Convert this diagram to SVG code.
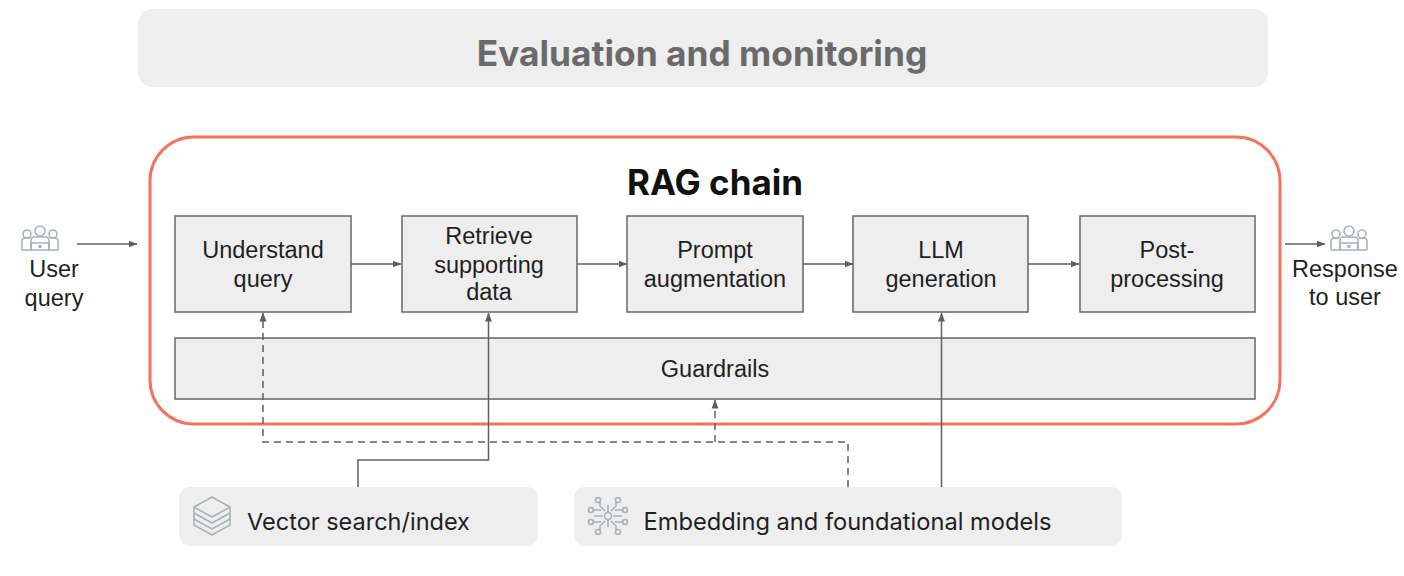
<svg xmlns="http://www.w3.org/2000/svg" width="1404" height="576" viewBox="0 0 1404 576">
<style>
text{font-family:"Liberation Sans",Arial,sans-serif;text-anchor:middle;fill:#1f1f1f;font-size:23.500px}
.box{fill:#eeeeee;stroke:#666666;stroke-width:1.5}
.pill{fill:#eeeeee}
.c{fill:none;stroke:#5f5f5f;stroke-width:1.5}
.d{stroke-dasharray:7 5}
.i{fill:none;stroke:#a9b2b6;stroke-width:1.6;stroke-linejoin:round}
.h{font-family:"Inter","Noto Sans",sans-serif}
</style>
<defs>
<marker id="a" markerWidth="9" markerHeight="8" refX="8.500" refY="4" orient="auto" markerUnits="userSpaceOnUse"><path d="M0 0.500L9 4L0 7.500Z" fill="#5f5f5f"/></marker>
<g id="people" class="i">
<circle cx="0" cy="-9" r="5"/><path d="M-9 10V0Q-9-3-5-3H5Q9-3 9 0V10"/>
<circle cx="-13" cy="-6" r="4"/><path d="M-18 10V1Q-18-2-14-2H-10"/><path d="M-18 10H-9"/>
<circle cx="13" cy="-6" r="4"/><path d="M18 10V1Q18-2 14-2H10"/><path d="M18 10H9"/>
<rect x="-9" y="3" width="18" height="7"/><rect x="-1.500" y="5" width="3" height="3" fill="#a9b2b6" stroke="none"/>
</g>
</defs>
<g id="evaluation"><rect class="pill" x="138" y="9" width="1130" height="78" rx="14"/><text class="h" x="702" y="66" style="font-size:35.300px;font-weight:700;fill:#6a6a6a">Evaluation and monitoring</text></g>
<g id="rag-chain"><rect x="150" y="137" width="1130" height="287" rx="44" fill="#fff" stroke="#f4735c" stroke-width="3"/><text class="h" x="715" y="195" style="font-size:35px;font-weight:700;fill:#111">RAG chain</text></g>
<g id="understand-query"><rect class="box" x="175" y="216" width="176" height="96"/><text x="263" y="258">Understand</text><text x="263" y="287">query</text></g>
<g id="retrieve"><rect class="box" x="402" y="216" width="175" height="96"/><text x="489" y="244">Retrieve</text><text x="489" y="273">supporting</text><text x="489" y="300">data</text></g>
<g id="prompt"><rect class="box" x="627" y="216" width="176" height="96"/><text x="715" y="258">Prompt</text><text x="715" y="287">augmentation</text></g>
<g id="llm"><rect class="box" x="853" y="216" width="175" height="96"/><text x="941" y="258">LLM</text><text x="941" y="287">generation</text></g>
<g id="post"><rect class="box" x="1080" y="216" width="175" height="96"/><text x="1167" y="258">Post-</text><text x="1167" y="287">processing</text></g>
<g id="guardrails"><rect class="box" x="175" y="338" width="1080" height="61"/><text x="715" y="377">Guardrails</text></g>
<g id="user-query"><use href="#people" x="40" y="240"/><text x="54" y="277">User</text><text x="54" y="306">query</text></g>
<g id="response"><use href="#people" x="1349" y="240"/><text x="1345" y="277">Response</text><text x="1345" y="305">to user</text></g>
<g id="vector"><rect class="pill" x="179" y="487" width="359" height="59" rx="11"/>
<g class="i"><path d="M212 497L230 507L212 517L194 507Z"/><path d="M194 507V513L212 523L230 513V507"/><path d="M194 513L194 525L212 535L230 525V513"/><path d="M194 519L212 529L230 519"/></g>
<text class="h" x="358.500" y="530" style="font-size:23.500px">Vector search/index</text></g>
<g id="embedding"><rect class="pill" x="574" y="487" width="548" height="59" rx="11"/>
<g class="i"><circle cx="608" cy="516" r="3.500"/><path d="M603 516H594M613 516H622M605 511L600 506V501M611 511L616 506V501M605 521L600 526V531M611 521L616 526V531M608 512V505M608 520V527M601 510H592M615 510H624M601 522H592M615 522H624"/><circle cx="598" cy="500" r="2.500"/><circle cx="618" cy="500" r="2.500"/><circle cx="598" cy="532" r="2.500"/><circle cx="618" cy="532" r="2.500"/><circle cx="591" cy="510" r="2.500"/><circle cx="625" cy="510" r="2.500"/><circle cx="591" cy="522" r="2.500"/><circle cx="625" cy="522" r="2.500"/></g>
<text class="h" x="847.500" y="530" style="font-size:23.650px">Embedding and foundational models</text></g>
<g id="connectors">
<path class="c" d="M77 244H137" marker-end="url(#a)"/>
<path class="c" d="M351 264H401" marker-end="url(#a)"/>
<path class="c" d="M577 264H627" marker-end="url(#a)"/>
<path class="c" d="M803 264H853" marker-end="url(#a)"/>
<path class="c" d="M1028 264H1079" marker-end="url(#a)"/>
<path class="c" d="M1285 244H1325" marker-end="url(#a)"/>
<path class="c" d="M358 487V460H488.500V313" marker-end="url(#a)"/>
<path class="c" d="M941.500 487V313" marker-end="url(#a)"/>
<path class="c d" d="M848 487V442H263V313" marker-end="url(#a)"/>
<path class="c d" d="M715 442V400" marker-end="url(#a)"/>
</g>
</svg>
